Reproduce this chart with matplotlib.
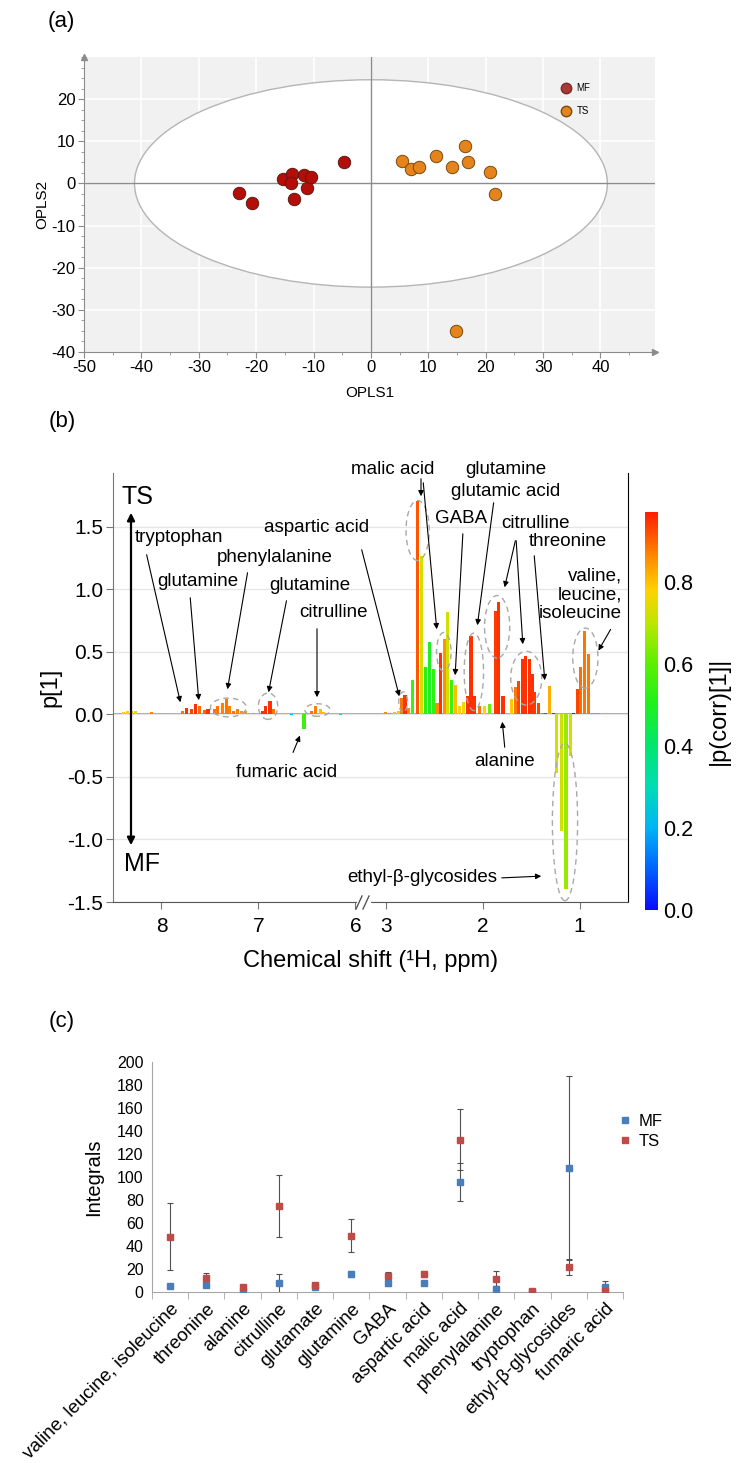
import numpy as np
import matplotlib
matplotlib.use("Agg")
import matplotlib.pyplot as plt
from matplotlib.patches import Ellipse, FancyArrowPatch
from matplotlib.lines import Line2D
from matplotlib.colors import LinearSegmentedColormap, Normalize
from matplotlib.cm import ScalarMappable
from matplotlib.ticker import MultipleLocator, FixedLocator

plt.rcParams['font.family'] = ['Liberation Sans', 'DejaVu Sans']
plt.rcParams['axes.unicode_minus'] = False

# ---- (a) OPLS scores ----
mf_x = [-23.0, -20.8, -15.3, -13.8, -14.0, -13.4, -11.6, -11.1, -10.4, -4.7]
mf_y = [-2.3, -4.7, 1.1, 2.3, 0.1, -3.6, 2.0, -1.1, 1.5, 5.1]
ts_x = [5.4, 7.0, 8.3, 11.4, 14.1, 16.4, 17.0, 20.7, 21.7, 14.8]
ts_y = [5.3, 3.5, 3.8, 6.4, 3.8, 8.8, 5.0, 2.7, -2.5, -35.0]

# ---- (b) loadings: shift (ppm), p[1], |p(corr)[1]| ----
shift = [8.39, 8.35, 8.31, 8.27, 8.10, 7.78, 7.74, 7.69, 7.65, 7.61, 7.56, 7.52,
         7.45, 7.42, 7.37, 7.33, 7.30, 7.26, 7.22, 7.17, 7.13, 7.05,
         6.96, 6.93, 6.88, 6.84, 6.70, 6.66, 6.62, 6.53,
         6.45, 6.41, 6.36, 6.33, 6.26, 6.21, 6.15, 6.05, 6.00, 5.96,
         3.12, 3.08, 3.00, 2.96, 2.91, 2.87, 2.84, 2.80, 2.76, 2.72, 2.67, 2.63,
         2.59, 2.55, 2.51, 2.47, 2.43, 2.39, 2.36, 2.32, 2.28, 2.24, 2.20, 2.16,
         2.12, 2.08, 2.03, 1.98, 1.93, 1.87, 1.84, 1.79, 1.70, 1.66, 1.63, 1.59,
         1.56, 1.52, 1.49, 1.46, 1.42, 1.38, 1.35, 1.31, 1.27, 1.24, 1.19, 1.14,
         1.09, 1.06, 1.02, 0.99, 0.95, 0.91, 0.87, 0.83, 0.80]
loading = [0.02, 0.025, 0.03, 0.025, 0.02, 0.027, 0.05, 0.04, 0.085, 0.07, 0.035, 0.04,
           0.04, 0.07, 0.09, 0.12, 0.07, 0.03, 0.045, 0.03, 0.03, 0.01,
           0.03, 0.07, 0.105, 0.04, 0.006, -0.006, 0.006, -0.115,
           0.03, 0.07, 0.04, 0.02, 0.006, 0.006, -0.006, 0.006, 0.006, 0.006,
           0.006, 0.006, 0.02, 0.015, 0.02, 0.03, 0.13, 0.155, 0.05, 0.275, 1.71, 1.27,
           0.38, 0.58, 0.36, 0.09, 0.49, 0.60, 0.82, 0.275, 0.235, 0.07, 0.10, 0.15,
           0.63, 0.15, 0.07, 0.07, 0.08, 0.83, 0.90, 0.15, 0.125, 0.22, 0.27, 0.445,
           0.47, 0.445, 0.325, 0.18, 0.09, 0.01, 0.01, 0.23, 0.01, -0.47, -0.93, -1.40,
           -0.33, 0.008, 0.20, 0.38, 0.67, 0.48, 0.015, 0.015, 0.01]
pcorr = [0.76, 0.78, 0.75, 0.72, 0.86, 0.88, 0.95, 0.93, 0.95, 0.89, 0.90, 0.95,
         0.88, 0.88, 0.87, 0.88, 0.87, 0.88, 0.87, 0.85, 0.85, 0.58,
         0.95, 0.95, 0.95, 0.88, 0.10, 0.20, 0.25, 0.55,
         0.88, 0.87, 0.80, 0.80, 0.10, 0.15, 0.30, 0.35, 0.45, 0.20,
         0.10, 0.22, 0.86, 0.86, 0.80, 0.79, 0.88, 0.95, 0.86, 0.55, 0.91, 0.72,
         0.52, 0.50, 0.53, 0.86, 0.95, 0.85, 0.72, 0.55, 0.80, 0.78, 0.76, 0.95,
         0.95, 0.95, 0.88, 0.78, 0.62, 0.94, 0.95, 0.95, 0.79, 0.88, 0.93, 0.95,
         0.95, 0.95, 0.95, 0.94, 0.93, 0.22, 0.12, 0.82, 0.08, 0.72, 0.72, 0.66,
         0.73, 0.05, 0.93, 0.89, 0.88, 0.88, 0.50, 0.50, 0.45]

# ---- (c) integrals ----
compounds = ['valine, leucine, isoleucine', 'threonine', 'alanine', 'citrulline',
             'glutamate', 'glutamine', 'GABA', 'aspartic acid', 'malic acid',
             'phenylalanine', 'tryptophan', 'ethyl-β-glycosides', 'fumaric acid']
mf_mean = [5.5, 6.5, 1.0, 7.5, 4.5, 15.5, 7.5, 7.5, 95.5, 2.5, 0.0, 108.0, 4.5]
mf_err = [1.5, 2.0, 1.0, 8.5, 1.0, 2.5, 2.5, 1.5, 16.5, 2.5, 0.5, 79.5, 5.0]
ts_mean = [48.0, 12.0, 4.0, 75.0, 6.5, 49.0, 14.0, 15.5, 132.5, 11.5, 0.8, 21.5, 1.0]
ts_err = [29.0, 4.5, 1.0, 27.0, 1.5, 14.5, 3.5, 2.5, 26.5, 6.5, 1.0, 6.5, 1.0]

W, H = 743, 1463
fig = plt.figure(figsize=(W / 100, H / 100), dpi=100)


def fxy(px, py):
    # pixel position in the picture -> figure fraction
    return px / W, 1 - py / H


def box(left, top, right, bottom):
    return [left / W, 1 - bottom / H, (right - left) / W, (bottom - top) / H]


# ================= (a) =================
ax1 = fig.add_axes(box(84, 57, 655, 352))
ax1.set_xlim(-50, 49.5)
ax1.set_ylim(-40, 30)
ax1.set_facecolor('#f1f1f1')
for v in range(-40, 50, 10):
    ax1.axvline(v, color='white', lw=1.2, zorder=0.5)
for v in range(-30, 30, 10):
    ax1.axhline(v, color='white', lw=1.2, zorder=0.5)
ax1.add_patch(Ellipse((0, 0), 82.4, 49.2, facecolor='white', edgecolor='#b5b5b5', lw=1.0, zorder=1))
ax1.axhline(0, color='#8c8c8c', lw=1.0, zorder=2)
ax1.axvline(0, color='#8c8c8c', lw=1.0, zorder=2)
ax1.scatter(mf_x, mf_y, s=80, color='#b50d08', edgecolors='#5c1a10', linewidths=0.7, zorder=4)
ax1.scatter(ts_x, ts_y, s=80, color='#e6841c', edgecolors='#7a4a10', linewidths=0.7, zorder=4)
for s in ['top', 'right']:
    ax1.spines[s].set_visible(False)
for s in ['left', 'bottom']:
    ax1.spines[s].set_color('#8c8c8c')
ax1.plot(0, 1, marker='^', color='#8c8c8c', ms=5, transform=ax1.transAxes, clip_on=False)
ax1.plot(1, 0, marker='>', color='#8c8c8c', ms=5, transform=ax1.transAxes, clip_on=False)
ax1.set_xticks(range(-50, 41, 10))
ax1.set_yticks(range(-40, 21, 10))
ax1.xaxis.set_minor_locator(MultipleLocator(5))
ax1.yaxis.set_minor_locator(MultipleLocator(2.5))
ax1.tick_params(labelsize=12, color='#8c8c8c', length=4, pad=2)
ax1.tick_params(which='minor', color='#8c8c8c', length=2)
ax1.set_xlabel('OPLS1', fontsize=11, labelpad=8)
ax1.set_ylabel('OPLS2', fontsize=11, labelpad=2)
leg_handles = [Line2D([], [], ls='', marker='o', ms=7.5, color='#a83a35', mec='#7a2a25'),
               Line2D([], [], ls='', marker='o', ms=7.5, color='#e6841c', mec='#7a4a10')]
ax1.legend(leg_handles, ['MF', 'TS'], loc='upper left', bbox_to_anchor=(0.82, 0.94),
           frameon=False, fontsize=7, handlelength=1.0, handletextpad=0.6, labelspacing=1.3)

# ================= (b) =================
LO, HI, SQ = 3.22, 5.91, 0.001


def fwd(p):
    p = np.asarray(p, dtype=float)
    return np.where(p <= LO, p, np.where(p >= HI, LO + (HI - LO) * SQ + (p - HI), LO + (p - LO) * SQ))


def inv(q):
    q = np.asarray(q, dtype=float)
    top = LO + (HI - LO) * SQ
    return np.where(q <= LO, q, np.where(q >= top, q - top + HI, LO + (q - LO) / SQ))


cmap = LinearSegmentedColormap.from_list('pcorr', [
    (0.00, '#0a0aff'), (0.10 / 0.97, '#0064ff'), (0.20 / 0.97, '#00b4f5'),
    (0.30 / 0.97, '#00dcb4'), (0.40 / 0.97, '#00e66e'), (0.50 / 0.97, '#1ef01e'),
    (0.60 / 0.97, '#5af000'), (0.70 / 0.97, '#bee600'), (0.78 / 0.97, '#ffd200'),
    (0.85 / 0.97, '#ff9600'), (0.92 / 0.97, '#ff5000'), (1.00, '#ff1e00')])
norm = Normalize(0, 0.97)

ax2 = fig.add_axes(box(113, 473, 628, 902))
ax2.set_xscale('function', functions=(fwd, inv))
ax2.set_xlim(8.5, 0.5)
ax2.set_ylim(-1.5, 1.93)
ax2.bar(shift, loading, width=0.032, color=cmap(norm(np.array(pcorr))), linewidth=0, zorder=2)
ax2.set_yticks([-1.5, -1.0, -0.5, 0.0, 0.5, 1.0, 1.5])
ax2.set_yticklabels(['-1.5', '-1.0', '-0.5', '0.0', '0.5', '1.0', '1.5'])
ax2.xaxis.set_major_locator(FixedLocator([8, 7, 6, 3, 2, 1]))
ax2.xaxis.set_minor_locator(FixedLocator([]))
ax2.set_xticklabels(['8', '7', '6', '3', '2', '1'])
ax2.yaxis.grid(True, color='#e6e6e6', lw=1.0, zorder=0)
ax2.axhline(0, color='#999999', lw=1.3, zorder=1.5)
ax2.spines['top'].set_visible(False)
ax2.spines['left'].set_color('#777777')
ax2.spines['bottom'].set_color('#555555')
ax2.spines['right'].set_color('black')
ax2.tick_params(labelsize=15, color='#777777', length=5, pad=2)
ax2.tick_params(axis='x', pad=6)
ax2.set_ylabel('p[1]', fontsize=17, labelpad=4)
ax2.set_xlabel('Chemical shift (¹H, ppm)', fontsize=17, labelpad=10)

for c, w, h in [((2.67, 1.47), 0.24, 0.48), ((2.40, 0.50), 0.15, 0.31), ((2.09, 0.34), 0.20, 0.62),
                ((1.85, 0.70), 0.26, 0.50), ((1.55, 0.29), 0.32, 0.43), ((0.94, 0.45), 0.26, 0.48),
                ((1.15, -0.86), 0.26, 1.26), ((7.31, 0.055), 0.37, 0.15), ((6.90, 0.065), 0.20, 0.21),
                ((6.39, 0.035), 0.26, 0.10), ((2.82, 0.10), 0.09, 0.16)]:
    ax2.add_patch(Ellipse(c, w, h, fill=False, edgecolor='#a8a8a8', lw=1.0, ls=(0, (4, 3)), zorder=3))

# broken axis mark
fig.add_artist(Line2D([fxy(359, 0)[0], fxy(369, 0)[0]], [fxy(0, 903)[1], fxy(0, 903)[1]],
                      color='white', lw=3, transform=fig.transFigure))
for x0 in (356, 363):
    p0, p1 = fxy(x0, 909), fxy(x0 + 6, 896)
    fig.add_artist(Line2D([p0[0], p1[0]], [p0[1], p1[1]], color='#555555', lw=1.0,
                          transform=fig.transFigure))

# TS / MF direction
fig.add_artist(FancyArrowPatch(fxy(131, 848), fxy(131, 510), transform=fig.transFigure,
                               arrowstyle='<|-|>', mutation_scale=11, lw=1.6, color='black'))
fig.text(*fxy(138, 497), 'TS', fontsize=18, ha='center', va='center')
fig.text(*fxy(142, 864), 'MF', fontsize=18, ha='center', va='center')

labels_b = [('malic acid', 393, 469), ('glutamine', 506, 469), ('glutamic acid', 506, 491),
            ('GABA', 461, 518), ('citrulline', 535, 523), ('threonine', 568, 542),
            ('aspartic acid', 317, 528), ('tryptophan', 179, 537), ('phenylalanine', 275, 557),
            ('glutamine', 198, 582), ('glutamine', 310, 586), ('citrulline', 333, 612),
            ('fumaric acid', 287, 772), ('alanine', 505, 762), ('ethyl-β-glycosides', 422, 877)]
for t, px, py in labels_b:
    fig.text(*fxy(px, py), t, fontsize=13.5, ha='center', va='center')
fig.text(*fxy(622, 595), 'valine,\nleucine,\nisoleucine', fontsize=13.5, ha='right', va='center',
         multialignment='right', linespacing=1.15)

arrows_b = [((421, 476), (421, 499)), ((423, 480), (437, 632)), ((494, 500), (477, 628)),
            ((463, 531), (455, 678)), ((516, 538), (504, 590)), ((516, 538), (523, 647)),
            ((534, 553), (545, 683)), ((612, 627), (597, 653)), ((361, 547), (400, 699)),
            ((146, 552), (181, 705)), ((248, 570), (227, 692)), ((190, 595), (199, 703)),
            ((287, 598), (268, 695)), ((317, 626), (317, 700)), ((292, 755), (301, 733)),
            ((505, 750), (502, 719)), ((499, 878), (544, 876))]
for a, b in arrows_b:
    fig.add_artist(FancyArrowPatch(fxy(*a), fxy(*b), transform=fig.transFigure,
                                   arrowstyle='-|>', mutation_scale=8, lw=0.8, color='black'))

cax = fig.add_axes(box(645, 512, 658, 910))
cb = fig.colorbar(ScalarMappable(norm=norm, cmap=cmap), cax=cax, ticks=[0, 0.2, 0.4, 0.6, 0.8])
cb.outline.set_visible(False)
cb.ax.tick_params(length=0, labelsize=15.5, pad=4)
cb.set_label('|p(corr)[1]|', fontsize=17, labelpad=10)

# ================= (c) =================
ax3 = fig.add_axes(box(152, 1062, 623, 1292))
xc = np.arange(len(compounds))
ax3.errorbar(xc, mf_mean, yerr=mf_err, fmt='s', ms=4, color='#4a7ebb', ecolor='#505050',
             elinewidth=0.8, capsize=2.5, capthick=0.8, zorder=3)
ax3.errorbar(xc, ts_mean, yerr=ts_err, fmt='s', ms=4, color='#be4b48', ecolor='#505050',
             elinewidth=0.8, capsize=2.5, capthick=0.8, zorder=3)
ax3.set_xlim(-0.5, len(compounds) - 0.5)
ax3.set_ylim(0, 200)
ax3.set_yticks(range(0, 201, 20))
ax3.set_xticks(xc)
ax3.set_xticklabels(compounds, rotation=45, ha='right', va='top', rotation_mode='anchor', fontsize=13.5)
ax3.xaxis.set_minor_locator(FixedLocator(np.arange(-0.5, len(compounds), 1.0)))
ax3.tick_params(axis='x', which='major', length=0, pad=6)
ax3.tick_params(axis='x', which='minor', length=5, color='#a6a6a6')
ax3.tick_params(axis='y', labelsize=11.5, length=0, pad=6)
for s in ['top', 'right']:
    ax3.spines[s].set_visible(False)
for s in ['left', 'bottom']:
    ax3.spines[s].set_color('#a6a6a6')
ax3.set_ylabel('Integrals', fontsize=14.5, labelpad=10)
c_handles = [Line2D([], [], ls='', marker='s', ms=4, color='#4a7ebb'),
             Line2D([], [], ls='', marker='s', ms=4, color='#be4b48')]
ax3.legend(c_handles, ['MF', 'TS'], loc='upper left', bbox_to_anchor=(0.962, 0.84), frameon=False,
           fontsize=12, handlelength=0.6, handletextpad=0.5, labelspacing=0.3)

fig.text(*fxy(61, 22), '(a)', fontsize=16, ha='center', va='center')
fig.text(*fxy(62, 422), '(b)', fontsize=16, ha='center', va='center')
fig.text(*fxy(62, 1022), '(c)', fontsize=16, ha='center', va='center')

fig.savefig('out.png', dpi=100)
